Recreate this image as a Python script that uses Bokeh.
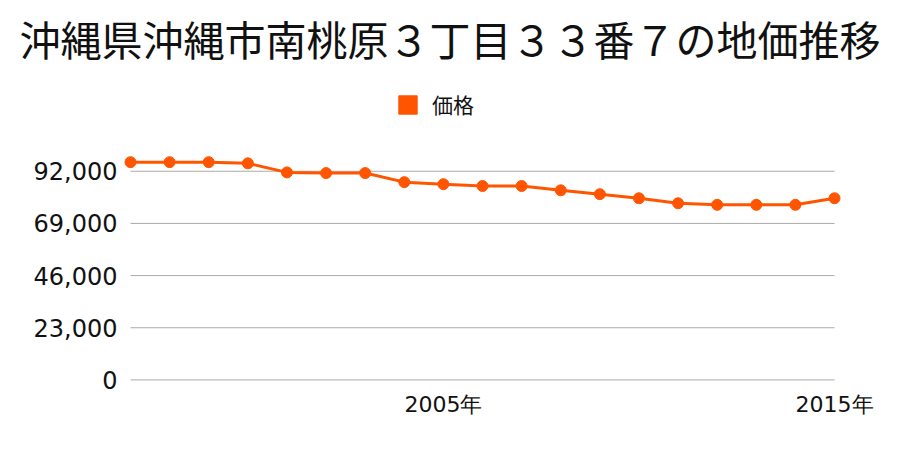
from bokeh.plotting import figure
from bokeh.models import Range1d, FixedTicker, Legend, LegendItem, Title, NumeralTickFormatter
from bokeh.embed import file_html
from bokeh.resources import INLINE

years = [1997, 1998, 1999, 2000, 2001, 2002, 2003, 2004, 2005, 2006,
         2007, 2008, 2009, 2010, 2011, 2012, 2013, 2014, 2015]
prices = [96000, 96000, 96000, 95500, 91500, 91200, 91200, 87200, 86300, 85500,
          85500, 83600, 81900, 80100, 77900, 77200, 77200, 77200, 80100]
y_ticks = [0, 23000, 46000, 69000, 92000]
x_ticks = [2005, 2015]
x_tick_labels = {2005: "2005年", 2015: "2015年"}
title_text = "沖縄県沖縄市南桃原３丁目３３番７の地価推移"
series_name = "価格"

COLOR = "#ff5500"

p = figure(width=900, height=450, output_backend="svg", toolbar_location=None,
           x_range=Range1d(1996.744, 2015.281), y_range=Range1d(-700, 133780),
           min_border_left=120, min_border_right=55, min_border_top=76,
           min_border_bottom=69)
p.outline_line_color = None
p.background_fill_color = "white"
p.border_fill_color = "white"

p.title = Title(text=title_text, align="left", offset=-101, text_font="Noto Sans CJK JP",
                text_font_size="41px", text_font_style="normal", text_color="#111111",
                vertical_align="top", standoff=14)

# horizontal grid lines spanning the data extent
p.segment(x0=[years[0]] * len(y_ticks), x1=[years[-1]] * len(y_ticks),
          y0=y_ticks, y1=y_ticks, line_color="#aaaaaa", line_width=1)

line = p.line(years, prices, line_color=COLOR, line_width=3)
pts = p.scatter(years, prices, size=11, fill_color=COLOR, line_color=COLOR)
sq = p.quad(left=[float("nan")], right=[float("nan")], bottom=[float("nan")],
            top=[float("nan")], fill_color=COLOR, line_color=COLOR)

legend = Legend(items=[LegendItem(label=series_name, renderers=[sq])],
                location=(276, 262), orientation="horizontal",
                glyph_width=23, glyph_height=23, label_height=23,
                label_standoff=13, padding=0, margin=0, border_line_color=None,
                background_fill_alpha=0, label_text_font="Noto Sans CJK JP",
                label_text_font_size="21px", label_text_color="#111111",
                label_text_baseline="middle")
p.add_layout(legend, "center")

p.xgrid.grid_line_color = None
p.ygrid.grid_line_color = None
p.yaxis.ticker = FixedTicker(ticks=y_ticks)
p.xaxis.ticker = FixedTicker(ticks=x_ticks)
p.xaxis.major_label_overrides = {k: v for k, v in x_tick_labels.items()}
p.yaxis.formatter = NumeralTickFormatter(format="0,0")

for ax in (p.xaxis, p.yaxis):
    ax.axis_line_color = None
    ax.major_tick_line_color = None
    ax.minor_tick_line_color = None
    ax.major_label_text_font = "DejaVu Sans"
    ax.major_label_text_font_size = "24px"
    ax.major_label_text_color = "#111111"
p.xaxis.major_label_text_font_size = "22px"
p.yaxis.major_label_standoff = -3
p.xaxis.major_label_standoff = 4

open("out.html", "w").write(file_html(p, INLINE))
